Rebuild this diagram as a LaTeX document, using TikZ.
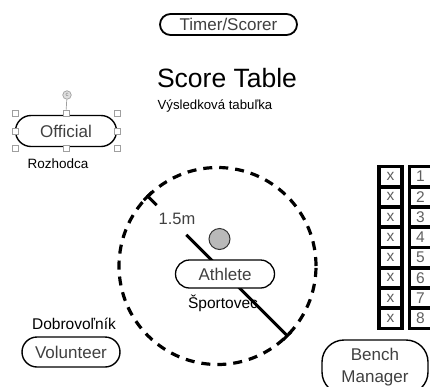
\documentclass[tikz,border=0pt]{standalone}
\usepackage{fontspec}
\setmainfont{Liberation Sans}
\usetikzlibrary{calc,arrows.meta}
\definecolor{txtgray}{HTML}{404040}
\definecolor{cellgray}{HTML}{606060}
\begin{document}
\begin{tikzpicture}[x=1pt,y=-1pt,
  pill/.style={draw, fill=white, line width=1.4pt, inner sep=0pt, text=txtgray,
    font=\fontsize{17}{21}\selectfont},
  lbl/.style={inner sep=0pt, font=\fontsize{14.5}{16}\selectfont},
  hnd/.style={draw=gray!75, fill=white, line width=0.7pt, minimum size=6pt, inner sep=0pt},
  cellbox/.style={draw, line width=3.8pt, minimum height=20.25pt, inner sep=0pt,
    text=cellgray, font=\fontsize{15.5}{16}\selectfont},
  ringline/.style={line width=3pt}]
\useasboundingbox (0,0) rectangle (430,386);

% Timer / Scorer
\node[pill, line width=1.8pt, minimum width=137pt, minimum height=21pt, rounded corners=10.5pt,
  font=\fontsize{17}{19}\selectfont] (timer) at (228.5,24.5) {Timer/Scorer};
\node[inner sep=0pt, font=\fontsize{26.5}{29}\selectfont] (score) at (227,78) {Score Table};
\node[inner sep=0pt, font=\fontsize{13.2}{15}\selectfont] (scoresk) at (215,106) {Výsledková tabuľka};

% Official with selection handles
\node[pill, minimum width=101pt, minimum height=31pt, rounded corners=15.5pt] (official) at (66,131) {Official};
\node[draw=gray!75, fill=gray!25, circle, line width=0.7pt, minimum size=8.5pt, inner sep=0pt,
  font=\fontsize{6}{6}\selectfont, text=gray] (rot) at (67,95) {c};
\node[hnd] (h1) at (15,113) {};
\node[hnd] (h2) at (66,113) {};
\node[hnd] (h3) at (117,113) {};
\node[hnd] (h4) at (15,131) {};
\node[hnd] (h5) at (117,131) {};
\node[hnd] (h6) at (15,148) {};
\node[hnd] (h7) at (66,148) {};
\node[hnd] (h8) at (117,148) {};
\draw[gray!75, line width=0.7pt] (rot) -- (h2);
\node[lbl, font=\fontsize{13.5}{15}\selectfont] (rozh) at (58,164) {Rozhodca};

% Circle area
\node[draw, circle, minimum size=197pt, line width=3.2pt, dash pattern=on 9pt off 7pt, inner sep=0pt] (ring) at (217.5,266) {};
\node[draw=black!80, fill=gray!55, circle, line width=1pt, minimum size=21pt, inner sep=0pt] (ball) at (219.5,239) {};
\node[inner sep=0pt, text=txtgray, font=\fontsize{16.5}{18}\selectfont] (dist) at (177,219) {1.5m};
\node[lbl, font=\fontsize{15.5}{17}\selectfont] (sport) at (223,303) {Športovec};
\coordinate (ga) at ($(ring.135)!0.07!(ring.-45)$);
\coordinate (gb) at ($(ring.135)!0.28!(ring.-45)$);
\draw[ringline, {Bar[width=11pt,length=0pt]}-] (ring.135) -- (ga);
\draw[ringline, -{Bar[width=11pt,length=0pt]}] (gb) -- (ring.-45);
\node[pill, line width=1.3pt, minimum width=99pt, minimum height=28pt, rounded corners=14pt] (athlete) at (225,274) {Athlete};

% Volunteer
\node[lbl, font=\fontsize{15.5}{17}\selectfont] (dobro) at (74,324) {Dobrovoľník};
\node[pill, minimum width=98pt, minimum height=30pt, rounded corners=15pt] (vol) at (71,352) {Volunteer};

% Bench
\foreach \i in {1,...,8}{
  \node[cellbox, minimum width=23pt] (bx\i) at (390.5,{166.5+20.25*(\i-0.5)}) {x};
  \node[cellbox, minimum width=22pt] (bn\i) at (420.5,{166.5+20.25*(\i-0.5)}) {\i};
}

% Bench Manager
\node[pill, minimum width=106pt, minimum height=54pt, rounded corners=22pt, align=center,
  font=\fontsize{17}{22}\selectfont] (bench) at (375,367) {Bench\\Manager};
\end{tikzpicture}
\end{document}
